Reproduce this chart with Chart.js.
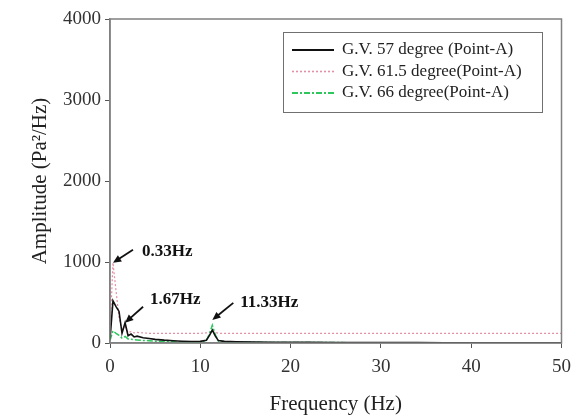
<!DOCTYPE html>
<html lang="en">
<head>
  <meta charset="UTF-8" />
  <title>Amplitude spectrum</title>
  <script src="https://cdn.jsdelivr.net/npm/chart.js"></script>
  <style>
    html, body { margin: 0; padding: 0; background: #fff; }
    #wrap { width: 579px; height: 419px; }
  </style>
</head>
<body>
  <div id="wrap"><canvas id="specChart"></canvas></div>

  <script>
    // frequency samples (Hz)
    const freq = [0, 0.33, 0.67, 1, 1.33, 1.67, 2, 2.33, 2.67, 3, 3.67, 4.33, 5, 6, 7, 8, 9, 10,
                  10.67, 11, 11.33, 11.67, 12, 12.67, 14, 16, 18, 20, 22, 25, 28, 31, 34, 37, 40, 43, 46, 50];
    const gv57 = [40, 520, 450, 390, 120, 250, 90, 110, 75, 85, 65, 55, 45, 35, 28, 22, 18, 20,
                  35, 90, 160, 85, 30, 20, 15, 12, 10, 10, 8, 7, 6, 5, 5, 4, 4, 4, 3, 3];
    const gv615 = [120, 990, 640, 320, 160, 210, 130, 140, 125, 130, 125, 120, 120, 120, 120, 120, 120, 120,
                   125, 130, 150, 130, 120, 120, 120, 120, 120, 120, 120, 120, 120, 120, 120, 120, 120, 120, 120, 120];
    const gv66 = [30, 150, 120, 95, 60, 80, 50, 45, 40, 38, 32, 28, 22, 18, 15, 12, 10, 12,
                  30, 110, 220, 100, 25, 15, 10, 8, 7, 6, 5, 5, 4, 4, 4, 3, 3, 3, 3, 3];
    const seriesNames = ['G.V. 57 degree (Point-A)', 'G.V. 61.5 degree(Point-A)', 'G.V. 66 degree(Point-A)'];
    const xTicks = [0, 10, 20, 30, 40, 50];
    const yTicks = [0, 1000, 2000, 3000, 4000];
    // peak labels: frequency, amplitude at arrow tip, text
    const peakFreq = [0.33, 1.67, 11.33];
    const peakAmp = [990, 250, 285];
    const peakText = ['0.33Hz', '1.67Hz', '11.33Hz'];

    const serif = "'Liberation Serif', 'DejaVu Serif', serif";
    const pts = vals => vals.map((v, i) => ({ x: freq[i], y: v }));

    const frameAndLegend = {
      id: 'frameAndLegend',
      afterDatasetsDraw(chart) {
        const { ctx, chartArea: a, scales } = chart;
        ctx.save();
        // frame
        ctx.strokeStyle = '#808080';
        ctx.lineWidth = 1.5;
        ctx.strokeRect(a.left, a.top, a.right - a.left, a.bottom - a.top);

        // peak arrows and labels
        ctx.strokeStyle = '#111';
        ctx.fillStyle = '#111';
        ctx.lineWidth = 1.8;
        ctx.font = "bold 17px " + serif;
        ctx.textBaseline = 'middle';
        ctx.textAlign = 'left';
        const arrow = [[20, -13], [18, -16], [21, -17]];
        const textOff = [[9, 2], [7, -7], [7, 0]];
        peakFreq.forEach((f, i) => {
          const tx = scales.x.getPixelForValue(f);
          const ty = scales.y.getPixelForValue(peakAmp[i]);
          const sx = tx + arrow[i][0], sy = ty + arrow[i][1];
          const ang = Math.atan2(ty - sy, tx - sx);
          ctx.beginPath();
          ctx.moveTo(sx, sy);
          ctx.lineTo(tx - 5 * Math.cos(ang), ty - 5 * Math.sin(ang));
          ctx.stroke();
          ctx.beginPath();
          ctx.moveTo(tx, ty);
          ctx.lineTo(tx - 9 * Math.cos(ang - 0.42), ty - 9 * Math.sin(ang - 0.42));
          ctx.lineTo(tx - 9 * Math.cos(ang + 0.42), ty - 9 * Math.sin(ang + 0.42));
          ctx.closePath(); ctx.fill();
          ctx.fillText(peakText[i], sx + textOff[i][0], sy + textOff[i][1]);
        });

        // legend box
        const lx = 283, ly = 32, lw = 259, lh = 80;
        ctx.fillStyle = '#fff';
        ctx.fillRect(lx, ly, lw, lh);
        ctx.strokeStyle = '#707070';
        ctx.lineWidth = 1;
        ctx.strokeRect(lx + 0.5, ly + 0.5, lw, lh);
        ctx.font = "17px " + serif;
        chart.data.datasets.forEach((ds, i) => {
          const y = ly + 18 + i * 21.5;
          ctx.strokeStyle = ds.borderColor;
          ctx.lineWidth = ds.borderWidth + 0.4;
          ctx.setLineDash(ds.borderDash || []);
          ctx.beginPath(); ctx.moveTo(lx + 9, y); ctx.lineTo(lx + 51, y); ctx.stroke();
          ctx.setLineDash([]);
          ctx.fillStyle = '#222';
          ctx.fillText(seriesNames[i], lx + 59, y);
        });
        ctx.restore();
      }
    };

    new Chart(document.getElementById('specChart'), {
      type: 'line',
      data: {
        datasets: [
          { label: seriesNames[0], data: pts(gv57), borderColor: '#111', borderWidth: 1.6, order: 1 },
          { label: seriesNames[1], data: pts(gv615), borderColor: '#e58fa5', borderWidth: 1.2, borderDash: [2, 2], order: 3 },
          { label: seriesNames[2], data: pts(gv66), borderColor: '#2ec75e', borderWidth: 1.5, borderDash: [6, 2, 2, 2], order: 2 }
        ]
      },
      options: {
        responsive: true,
        maintainAspectRatio: false,
        animation: false,
        elements: { point: { radius: 0 }, line: { tension: 0 } },
        layout: { padding: { left: 24, top: 19, right: 17, bottom: 0 } },
        plugins: { legend: { display: false }, tooltip: { enabled: false } },
        scales: {
          x: {
            type: 'linear', min: 0, max: 50,
            afterBuildTicks: s => { s.ticks = xTicks.map(v => ({ value: v })); },
            afterFit: s => { s.height = 76; },
            grid: { drawOnChartArea: false, tickLength: 5, color: '#555' },
            border: { color: '#808080', width: 1.5 },
            ticks: { color: '#333', font: { family: serif, size: 19 }, padding: 8, maxRotation: 0,
                     callback: v => String(v) },
            title: { display: true, text: 'Frequency (Hz)', color: '#222', font: { family: serif, size: 21 }, padding: { top: 6, bottom: 2 } }
          },
          y: {
            min: 0, max: 4000,
            afterBuildTicks: s => { s.ticks = yTicks.map(v => ({ value: v })); },
            afterFit: s => { s.width = 86; },
            grid: { drawOnChartArea: false, tickLength: 5, color: '#555' },
            border: { color: '#808080', width: 1.5 },
            ticks: { color: '#333', font: { family: serif, size: 19 }, padding: 4,
                     callback: v => String(v) },
            title: { display: true, text: 'Amplitude (Pa²/Hz)', color: '#222', font: { family: serif, size: 21 }, padding: { top: 4, bottom: 4 } }
          }
        }
      },
      plugins: [frameAndLegend]
    });
  </script>
</body>
</html>
